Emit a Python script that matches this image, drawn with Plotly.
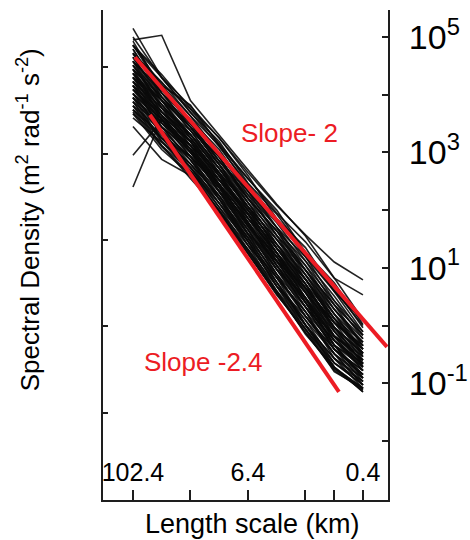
import plotly.graph_objects as go

# ---- data ----
length_km = [102.4, 51.2, 25.6, 12.8, 6.4, 3.2, 1.6, 0.8, 0.4]

# log10 spectral density of each spectrum at the lengths above
spectra_log10 = [
    [5.00, 4.29, 3.69, 3.19, 2.47, 1.93, 1.27, 0.74, 0.02],
    [4.86, 4.35, 3.76, 3.25, 2.60, 1.85, 1.35, 0.59, 0.08],
    [4.72, 4.16, 3.82, 3.12, 2.54, 2.00, 1.27, 0.66, -0.04],
    [4.93, 4.09, 3.57, 3.05, 2.33, 1.78, 1.12, 0.51, -0.17],
    [4.58, 4.09, 3.50, 2.98, 2.27, 1.70, 1.04, 0.43, -0.11],
    [4.79, 3.96, 3.50, 2.85, 2.33, 1.56, 1.04, 0.28, -0.23],
    [4.44, 3.96, 3.38, 2.92, 2.20, 1.64, 0.96, 0.20, -0.29],
    [4.65, 3.90, 3.44, 2.79, 2.06, 1.49, 0.96, 0.36, -0.35],
    [4.30, 3.83, 3.31, 2.79, 2.13, 1.41, 0.88, 0.12, -0.41],
    [4.51, 3.77, 3.31, 2.65, 2.06, 1.34, 0.80, 0.05, -0.35],
    [4.37, 3.90, 3.25, 2.72, 2.00, 1.41, 0.72, -0.03, -0.48],
    [4.16, 3.70, 3.25, 2.59, 2.00, 1.26, 0.72, 0.12, -0.54],
    [4.44, 3.70, 3.19, 2.65, 1.93, 1.34, 0.65, 0.05, -0.60],
    [4.23, 3.77, 3.12, 2.59, 1.86, 1.26, 0.57, -0.10, -0.54],
    [4.30, 3.64, 3.19, 2.52, 1.93, 1.19, 0.65, -0.18, -0.60],
    [4.02, 3.57, 3.12, 2.45, 1.86, 1.12, 0.57, -0.03, -0.66],
    [4.37, 3.64, 3.06, 2.52, 1.79, 1.19, 0.48, -0.26, -0.66],
    [4.09, 3.57, 3.00, 2.45, 1.73, 1.12, 0.40, -0.18, -0.78],
    [4.16, 3.51, 3.06, 2.39, 1.79, 0.97, 0.48, -0.34, -0.72],
    [3.88, 3.44, 3.00, 2.32, 1.73, 1.04, 0.32, -0.26, -0.78],
    [4.23, 3.51, 2.93, 2.39, 1.66, 0.97, 0.40, -0.41, -0.85],
    [3.95, 3.44, 2.87, 2.32, 1.59, 0.97, 0.24, -0.34, -0.91],
    [4.02, 3.38, 2.93, 2.25, 1.52, 0.89, 0.16, -0.49, -0.85],
    [3.74, 3.31, 2.87, 2.19, 1.59, 0.83, 0.24, -0.57, -0.97],
    [3.81, 3.25, 2.80, 2.12, 1.52, 0.75, 0.09, -0.49, -1.03],
    [3.88, 3.18, 2.74, 2.05, 1.46, 0.68, 0.09, -0.65, -0.97],
    [3.60, 3.18, 2.68, 2.12, 1.39, 0.75, 0.01, -0.72, -1.09],
    [3.67, 3.05, 2.61, 1.92, 1.32, 0.60, -0.15, -0.72, -1.15],
    [3.74, 3.12, 2.55, 1.99, 1.25, 0.53, -0.07, -0.80, -1.09],
    [4.58, 4.03, 3.44, 2.79, 2.20, 1.49, 0.88, 0.28, -0.29],
    [4.72, 4.22, 3.63, 2.98, 2.40, 1.70, 1.19, 0.43, -0.23],
    [4.86, 4.16, 3.63, 3.12, 2.40, 1.85, 1.19, 0.59, -0.11],
    [4.30, 3.77, 3.38, 2.72, 2.13, 1.56, 0.80, 0.20, -0.48],
    [4.09, 3.64, 3.19, 2.52, 2.00, 1.26, 0.48, -0.10, -0.72],
    [3.95, 3.31, 2.93, 2.45, 1.73, 1.19, 0.48, -0.34, -0.66],
    [4.16, 3.38, 2.80, 2.25, 1.66, 0.89, 0.32, -0.41, -0.78],
    [3.81, 3.38, 2.74, 2.19, 1.39, 0.83, 0.01, -0.57, -0.91],
    [4.44, 3.90, 3.31, 2.65, 1.86, 1.26, 0.57, -0.18, -0.54],
    [4.23, 3.57, 3.00, 2.52, 1.93, 1.12, 0.65, 0.05, -0.41],
    [4.51, 3.83, 3.25, 2.59, 1.79, 1.04, 0.32, -0.26, -0.66],
    [4.02, 3.51, 3.12, 2.65, 2.06, 1.49, 0.80, 0.05, -0.35],
    [4.65, 3.96, 3.38, 2.72, 2.06, 1.34, 0.72, -0.03, -0.66],
    [3.67, 3.25, 2.80, 2.25, 1.46, 0.68, 0.16, -0.41, -0.97],
    [4.79, 4.03, 3.57, 2.92, 2.20, 1.64, 1.12, 0.36, -0.17],
    [4.37, 3.70, 3.12, 2.45, 1.73, 1.19, 0.40, -0.34, -0.91],
    [4.09, 3.44, 3.06, 2.32, 1.59, 0.83, 0.24, -0.49, -1.03],
    [3.88, 3.25, 2.68, 2.05, 1.32, 0.68, -0.07, -0.65, -1.03],
    [4.30, 3.57, 2.93, 2.19, 1.52, 0.75, 0.01, -0.57, -1.09],
    [4.58, 3.90, 3.25, 2.59, 1.93, 1.34, 0.65, -0.03, -0.48],
    [4.16, 3.64, 3.06, 2.32, 1.79, 1.04, 0.48, -0.18, -0.60],
    [4.51, 3.96, 3.44, 2.85, 2.26, 1.56, 0.96, 0.36, -0.17],
    [4.23, 3.70, 3.31, 2.72, 2.06, 1.34, 0.80, 0.12, -0.29],
    [3.95, 3.51, 3.06, 2.45, 1.86, 1.26, 0.65, 0.05, -0.41],
    [3.74, 3.25, 2.93, 2.39, 1.79, 1.04, 0.40, -0.18, -0.60],
    [4.02, 3.31, 2.74, 2.12, 1.46, 0.83, 0.16, -0.41, -0.85],
    [4.72, 4.03, 3.44, 2.92, 2.13, 1.41, 0.80, 0.12, -0.48],
    [4.86, 4.09, 3.50, 2.85, 2.20, 1.64, 0.88, 0.20, -0.41],
    [4.37, 3.83, 3.19, 2.45, 1.73, 0.97, 0.32, -0.41, -0.78],
    [4.16, 3.44, 2.87, 2.19, 1.46, 0.68, 0.01, -0.65, -1.03],
    [3.81, 3.12, 2.68, 1.99, 1.39, 0.60, 0.01, -0.72, -1.15],
    [4.58, 3.77, 3.19, 2.52, 1.93, 1.19, 0.57, -0.26, -0.72],
    [4.30, 3.90, 3.44, 2.79, 2.00, 1.41, 0.72, -0.10, -0.66],
    [4.09, 3.64, 3.00, 2.32, 1.66, 0.89, 0.16, -0.49, -0.91],
    [4.44, 3.57, 3.12, 2.39, 1.59, 1.12, 0.40, -0.34, -0.85],
    [4.65, 4.16, 3.50, 2.98, 2.33, 1.70, 0.96, 0.28, -0.35],
    [3.70, 3.10, 2.62, 1.93, 1.22, 0.55, -0.12, -0.78, -1.12],
    [3.95, 3.20, 2.66, 1.98, 1.28, 0.58, -0.05, -0.74, -1.08],
    [4.95, 5.03, 3.90, 3.30, 2.70, 2.10, 1.55, 0.82, 0.10],
    [4.85, 4.30, 3.80, 3.25, 2.65, 2.08, 1.57, 1.10, 0.79],
    [4.70, 4.20, 3.75, 3.15, 2.55, 1.95, 1.45, 0.82, 0.53],
    [2.95, 3.55, 3.20, 2.60, 1.95, 1.25, 0.61, -0.05, -0.50],
    [2.40, 3.60, 3.05, 2.40, 1.75, 1.09, 0.44, -0.20, -0.70],
    [5.15, 4.30, 3.70, 3.10, 2.45, 1.84, 1.23, 0.60, 0.00],
    [3.45, 2.88, 2.60, 2.00, 1.30, 0.56, -0.12, -0.75, -1.10],
]

# reference slope lines (end points)
slope2_km = [97.5, 0.224]
slope2_log10 = [4.65, -0.37]
slope24_km = [68.0, 0.714]
slope24_log10 = [3.65, -1.15]

# axis ticks
x_tick_km = [102.4, 25.6, 6.4, 1.6, 0.8, 0.4]
x_label_km = [102.4, 6.4, 0.4]
x_label_text = ["102.4", "6.4", "0.4"]
y_labelled = [-1, 1, 3, 5]
y_unlabelled = [-2, 0, 2, 4]
left_ticks = [1, 2, 3, 4, 5]

RED = "#ec1c24"
INK = "#1e1e1e"
FONT = "Liberation Sans, Arial, sans-serif"
XRANGE = [2.324, -0.660]

fig = go.Figure()
for s in spectra_log10:
    fig.add_trace(go.Scatter(
        x=length_km, y=[10 ** v for v in s], mode="lines",
        line=dict(color="rgba(10,10,10,0.9)", width=1.6),
        showlegend=False, hoverinfo="skip"))

fig.add_trace(go.Scatter(x=slope2_km, y=[10 ** v for v in slope2_log10], mode="lines",
                         line=dict(color=RED, width=4), showlegend=False, hoverinfo="skip"))
fig.add_trace(go.Scatter(x=slope24_km, y=[10 ** v for v in slope24_log10], mode="lines",
                         line=dict(color=RED, width=4), showlegend=False, hoverinfo="skip"))
# empty traces so that the extra axes are drawn
fig.add_trace(go.Scatter(x=[], y=[], yaxis="y2", showlegend=False, hoverinfo="skip"))
fig.add_trace(go.Scatter(x=[], y=[], xaxis="x2", showlegend=False, hoverinfo="skip"))

fig.update_layout(
    width=470, height=540,
    margin=dict(l=103, r=82, t=10, b=40),
    paper_bgcolor="white", plot_bgcolor="white",
    font=dict(family=FONT, color="black"),
    xaxis=dict(
        type="log", range=XRANGE,
        tickvals=x_tick_km, showticklabels=False,
        ticks="inside", ticklen=10, tickwidth=1.5, tickcolor=INK,
        showline=True, linecolor=INK, linewidth=2,
        showgrid=False, zeroline=False, automargin=False,
    ),
    xaxis2=dict(
        type="log", range=XRANGE, overlaying="x", anchor="free", position=0.092,
        side="bottom", tickvals=x_label_km, ticktext=x_label_text, ticks="",
        tickfont=dict(size=25, family=FONT, color="black"),
        showline=False, showgrid=False, zeroline=False, automargin=False,
    ),
    yaxis=dict(
        type="log", side="right", range=[-3.024, 5.468],
        tickvals=[10 ** d for d in y_labelled],
        ticktext=["10<sup>%d</sup>" % d for d in y_labelled],
        ticks="inside", ticklen=6, tickwidth=1.5, tickcolor=INK,
        minor=dict(tickvals=[10 ** d for d in y_unlabelled], ticks="inside",
                   ticklen=6, tickwidth=1.5, tickcolor=INK, showgrid=False),
        tickfont=dict(size=34, family=FONT, color="black"), ticklabelstandoff=12,
        showline=True, linecolor=INK, linewidth=2,
        showgrid=False, zeroline=False, automargin=False,
    ),
    yaxis2=dict(
        overlaying="y", side="left", range=[-0.006, 5.659],
        tickvals=left_ticks, showticklabels=False,
        ticks="inside", ticklen=5, tickwidth=1.5, tickcolor=INK,
        showline=True, linecolor=INK, linewidth=2,
        showgrid=False, zeroline=False, automargin=False,
    ),
    annotations=[
        dict(text="Slope- 2", x=0.367, y=3.336, xref="x", yref="y", showarrow=False,
             font=dict(size=26, color=RED, family=FONT)),
        dict(text="Slope -2.4", x=1.267, y=-0.633, xref="x", yref="y", showarrow=False,
             font=dict(size=26, color=RED, family=FONT)),
        dict(text="Spectral Density (m<sup>2</sup> rad<sup>-1</sup> s<sup>-2</sup>)",
             textangle=-90, x=-0.263, y=0.571, xref="paper", yref="paper",
             xanchor="center", yanchor="middle", showarrow=False,
             font=dict(size=26, color="black", family=FONT)),
        dict(text="Length scale (km)", x=0.523, y=-0.049, xref="paper", yref="paper",
             xanchor="center", yanchor="middle", showarrow=False,
             font=dict(size=27, color="black", family=FONT)),
    ],
)

fig.write_html("out.html", config={"displayModeBar": False})
